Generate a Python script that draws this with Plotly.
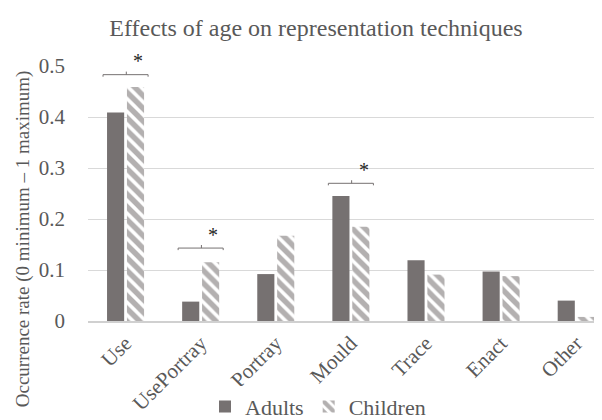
import plotly.graph_objects as go

categories = ["Use", "UsePortray", "Portray", "Mould", "Trace", "Enact", "Other"]
adults = [0.409, 0.038, 0.092, 0.245, 0.119, 0.097, 0.040]
children = [0.459, 0.115, 0.167, 0.185, 0.091, 0.088, 0.008]
sig_categories = ["Use", "UsePortray", "Mould"]
sig_heights = [0.483, 0.143, 0.270]
y_ticks = [0, 0.1, 0.2, 0.3, 0.4, 0.5]
y_tick_labels = ["0", "0.1", "0.2", "0.3", "0.4", "0.5"]

GRAY = "#767171"
TXT = "#595959"
FONT = "Liberation Serif, Times New Roman, serif"
Y_MAX = 0.5

fig = go.Figure()
fig.add_trace(go.Bar(name="Adults", x=categories, y=adults,
                     marker=dict(color=GRAY, line=dict(width=0))))
fig.add_trace(go.Bar(name="Children", x=categories, y=children,
                     marker=dict(color="white", line=dict(width=0),
                                 pattern=dict(shape="\\", fgcolor="#676262", bgcolor="white",
                                              size=9, solidity=0.6))))

half = 0.30
for cat, h in zip(sig_categories, sig_heights):
    i = categories.index(cat)
    fig.add_shape(type="path", xref="x", yref="y",
                  path=f"M {i-half},{h-0.004} L {i-half},{h} L {i+half},{h} L {i+half},{h-0.004}",
                  line=dict(color=GRAY, width=1))
    fig.add_shape(type="line", xref="x", yref="y", x0=i + 0.01, x1=i + 0.01, y0=h, y1=h + 0.006,
                  line=dict(color=GRAY, width=1))
    fig.add_annotation(x=i + 0.17, y=(h + 0.026) / Y_MAX, xref="x", yref="paper", text="*",
                       showarrow=False, yanchor="middle",
                       font=dict(family=FONT, size=20, color="#262626"))

fig.add_annotation(text="Occurrence rate (0 minimum \u2013 1 maximum)",
                   xref="paper", yref="paper", x=-80/522 + 15/522, y=(320 - 236) / 262,
                   xanchor="center", yanchor="middle", textangle=-90, showarrow=False,
                   font=dict(family=FONT, size=19, color=TXT))

fig.update_layout(
    width=602, height=420,
    margin=dict(l=80, r=0, t=58, b=100),
    paper_bgcolor="white", plot_bgcolor="white",
    barmode="group", bargap=0.47, bargroupgap=0.14,
    title=dict(text="Effects of age on representation techniques",
               xref="paper", x=(308 - 80) / 522, xanchor="center",
               yref="container", y=1 - 20 / 420, yanchor="middle",
               font=dict(family=FONT, size=24, color=TXT)),
    font=dict(family=FONT, color=TXT),
    legend=dict(orientation="h", x=(310 - 80) / 522, xanchor="center",
                y=-(408 - 320) / 262, yanchor="middle",
                font=dict(family=FONT, size=22, color=TXT), itemwidth=30,
                traceorder="normal", tracegroupgap=0),
    showlegend=True,
)
fig.update_xaxes(type="category", range=[-0.5, 6.45], automargin=False, tickangle=-45,
                 tickfont=dict(family=FONT, size=21, color=TXT),
                 showline=True, linecolor="#d0d0d0", linewidth=1.5, showgrid=False,
                 ticks="")
fig.update_yaxes(range=[0, Y_MAX], tickvals=y_ticks, ticktext=y_tick_labels, automargin=False,
                 tickfont=dict(family=FONT, size=21, color=TXT),
                 showgrid=True, gridcolor="#d9d9d9", gridwidth=1, zeroline=False,
                 ticklabelstandoff=22)

fig.write_html("out.html")
